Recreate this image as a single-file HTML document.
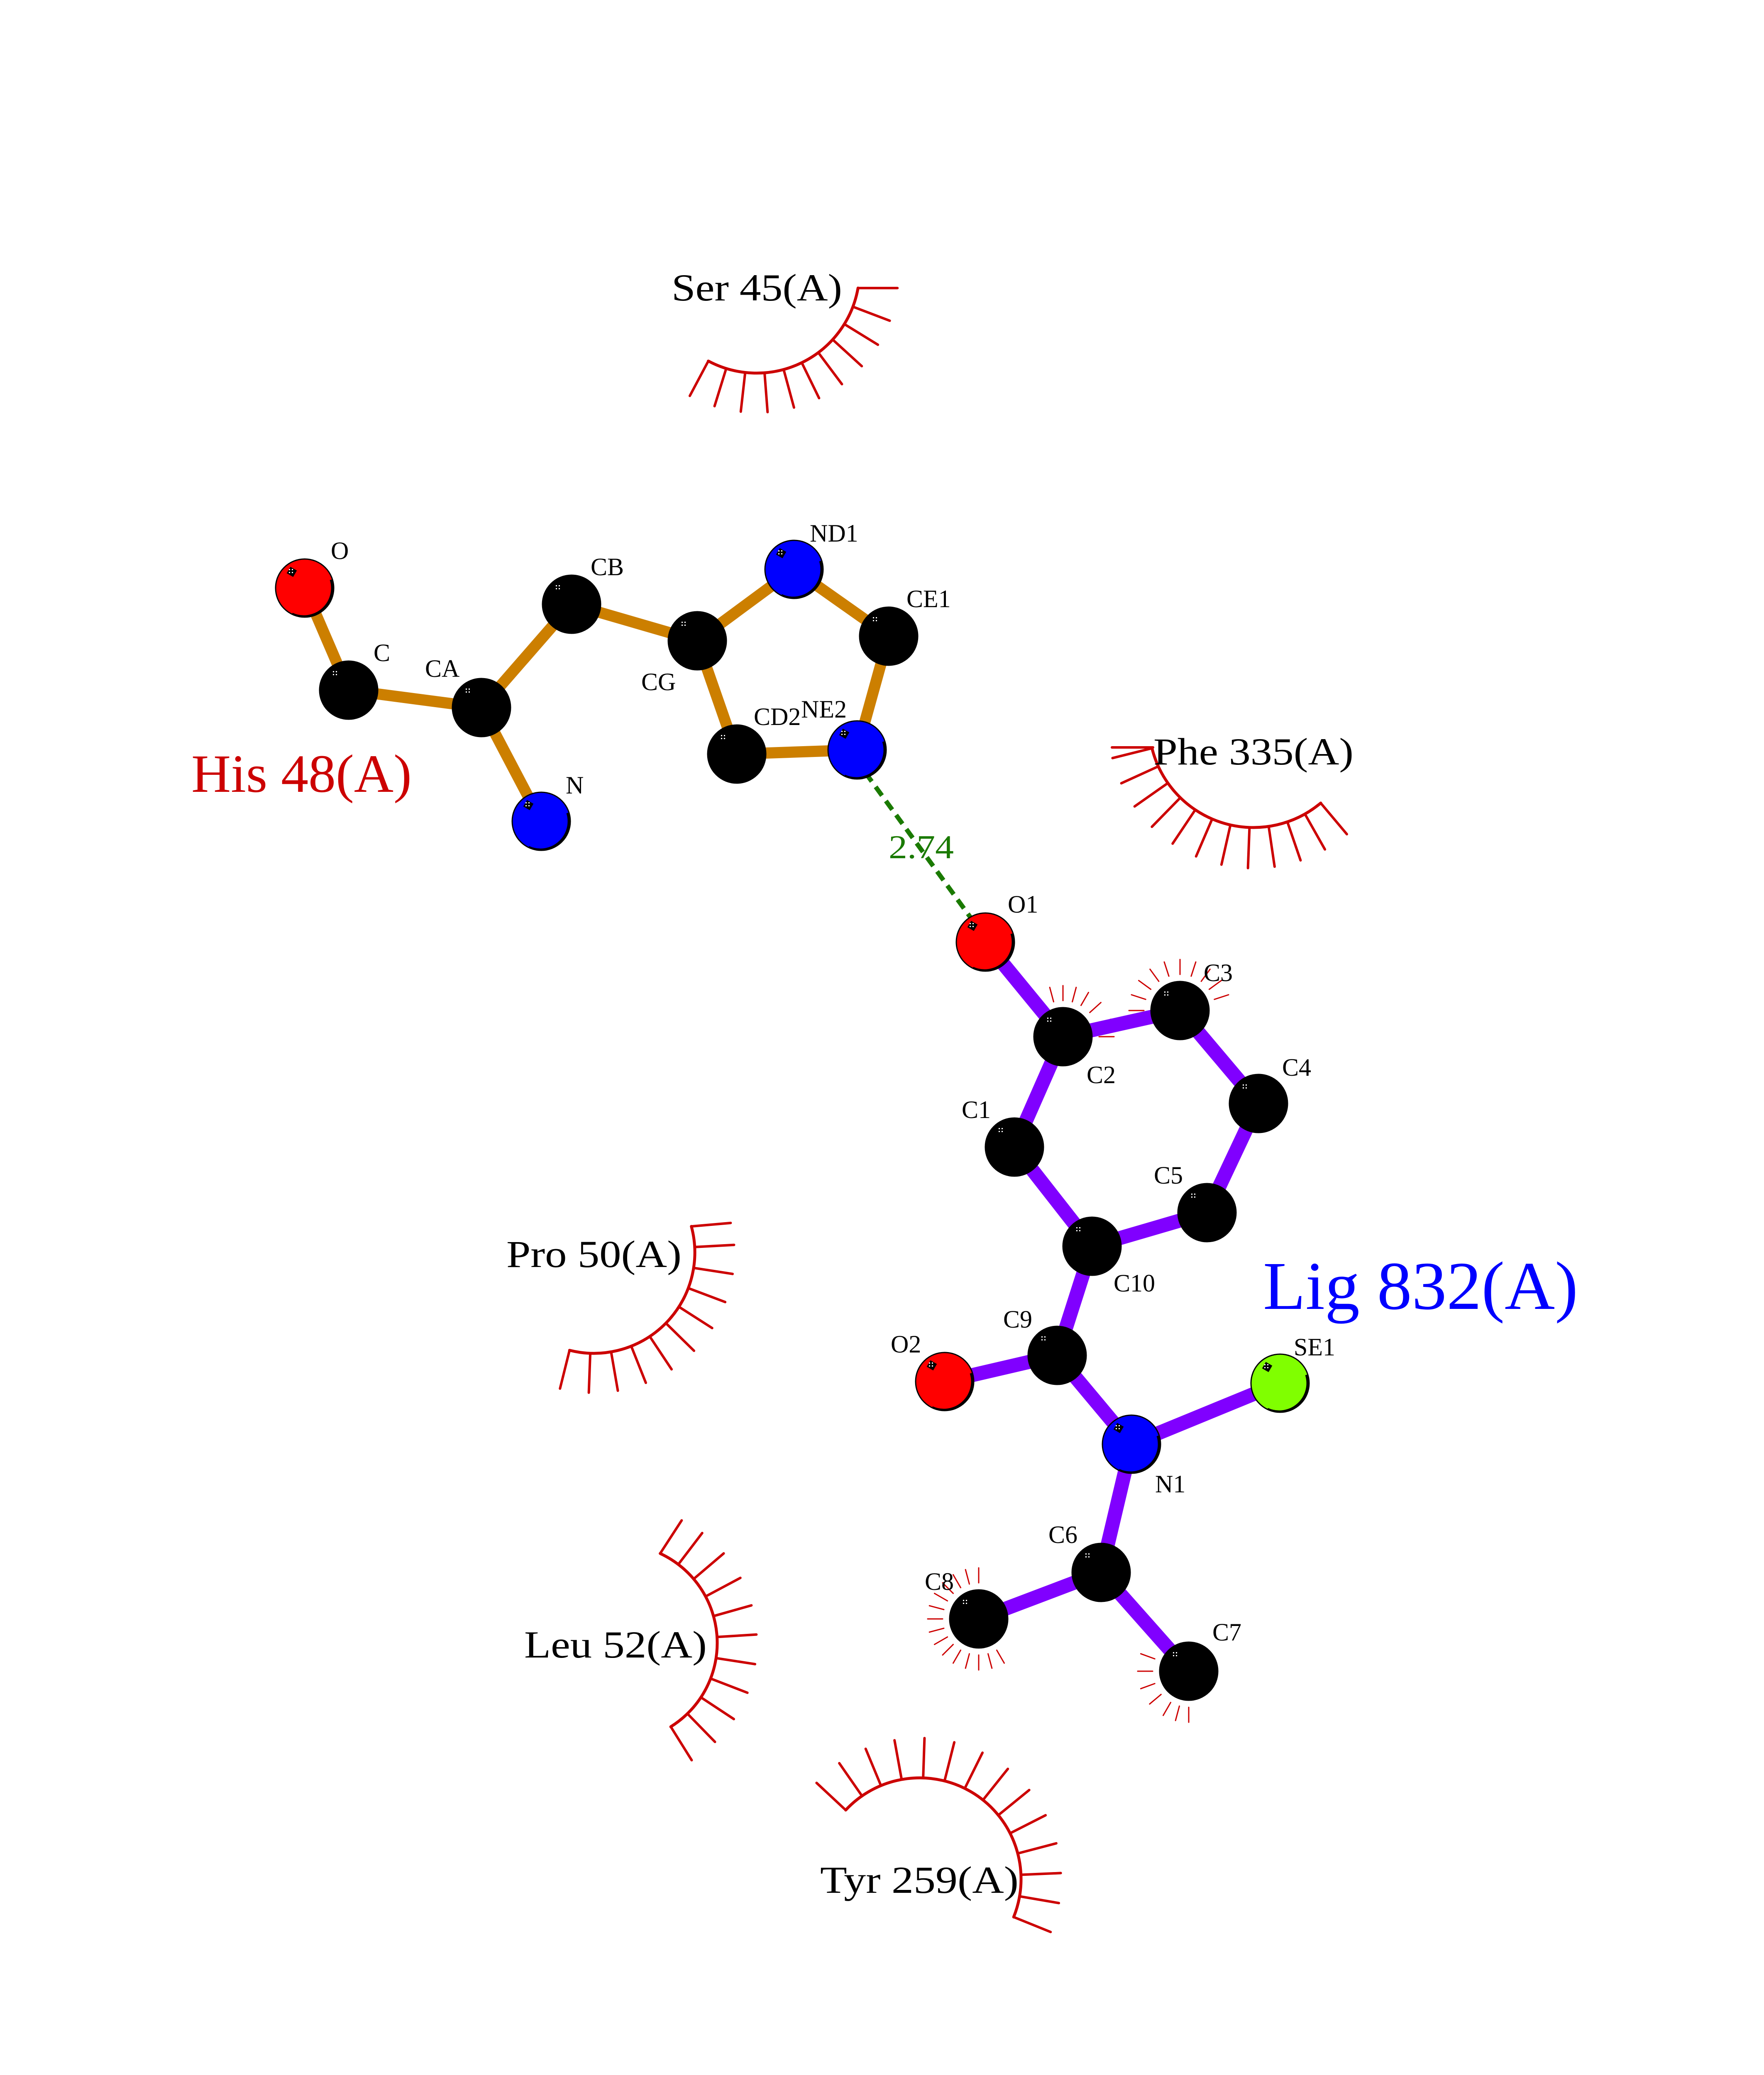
<!DOCTYPE html>
<html><head><meta charset="utf-8">
<style>
html,body{margin:0;padding:0;background:#fff;width:4250px;height:5500px;overflow:hidden;}
svg{display:block;}
</style></head>
<body>
<svg id="s" xmlns="http://www.w3.org/2000/svg" width="4250" height="5500" viewBox="0 0 4250 5500" font-family="'Liberation Serif', serif">
<rect width="4250" height="5500" fill="#fff"/>
<g id="arcs" stroke="#cc0000" fill="none" stroke-linecap="round"></g>
<g id="bonds" stroke-linecap="butt"></g>
<line x1="2085" y1="1862" x2="2345" y2="2220" stroke="#1a7a00" stroke-width="11" stroke-dasharray="26,16"/>
<g id="atoms"></g>
<g id="labels" font-size="60" fill="#000"></g>
<text x="1618" y="724" font-size="92" textLength="411" lengthAdjust="spacingAndGlyphs">Ser 45(A)</text>
<text x="2779" y="1842" font-size="92" textLength="482" lengthAdjust="spacingAndGlyphs">Phe 335(A)</text>
<text x="1220" y="3053" font-size="92" textLength="422" lengthAdjust="spacingAndGlyphs">Pro 50(A)</text>
<text x="1263" y="3994" font-size="92" textLength="440" lengthAdjust="spacingAndGlyphs">Leu 52(A)</text>
<text x="1976" y="4561" font-size="92" textLength="478" lengthAdjust="spacingAndGlyphs">Tyr 259(A)</text>
<text x="461" y="1908" font-size="130" fill="#cc0000" textLength="531" lengthAdjust="spacingAndGlyphs">His 48(A)</text>
<text x="3043" y="3154" font-size="165" fill="#0000ff" textLength="759" lengthAdjust="spacingAndGlyphs">Lig 832(A)</text>
<text x="2141" y="2068" font-size="80" fill="#1a7a00" textLength="157" lengthAdjust="spacingAndGlyphs">2.74</text>
<text x="205" y="5150" font-size="40">.</text>
</svg>
<script>
(function(){
var NS="http://www.w3.org/2000/svg";
function el(p,n,a){var e=document.createElementNS(NS,n);for(var k in a)e.setAttribute(k,a[k]);p.appendChild(e);return e;}
var A={O:[734,1417,'r'],C:[840,1663,'k'],CA:[1160,1705,'k'],N:[1304,1979,'b'],CB:[1377,1456,'k'],CG:[1680,1544,'k'],ND1:[1913,1372,'b'],CE1:[2141,1533,'k'],NE2:[2065,1807,'b'],CD2:[1775,1817,'k'],
O1:[2374,2270,'r'],C2:[2561,2498,'k'],C3:[2843,2435,'k'],C4:[3032,2659,'k'],C5:[2908,2922,'k'],C10:[2631,3003,'k'],C1:[2444,2764,'k'],C9:[2547,3266,'k'],O2:[2276,3329,'r'],N1:[2726,3480,'b'],SE1:[3084,3333,'g'],C6:[2653,3789,'k'],C8:[2358,3901,'k'],C7:[2864,4027,'k']};
var HB=[['O','C'],['C','CA'],['CA','N'],['CA','CB'],['CB','CG'],['CG','ND1'],['ND1','CE1'],['CE1','NE2'],['NE2','CD2'],['CD2','CG']];
var LB=[['O1','C2'],['C2','C3'],['C3','C4'],['C4','C5'],['C5','C10'],['C10','C1'],['C1','C2'],['C10','C9'],['C9','O2'],['C9','N1'],['N1','SE1'],['N1','C6'],['C6','C8'],['C6','C7']];
var bg=document.getElementById('bonds');
HB.forEach(function(b){var p=A[b[0]],q=A[b[1]];el(bg,'line',{x1:p[0],y1:p[1],x2:q[0],y2:q[1],stroke:'#cc7f00','stroke-width':27});});
LB.forEach(function(b){var p=A[b[0]],q=A[b[1]];el(bg,'line',{x1:p[0],y1:p[1],x2:q[0],y2:q[1],stroke:'#8000ff','stroke-width':34});});
var col={r:'#ff0000',k:'#000000',b:'#0000ff',g:'#80ff00'};
var ag=document.getElementById('atoms');
for(var k in A){var a=A[k];
 el(ag,'circle',{cx:a[0],cy:a[1],r:70,fill:col[a[2]],stroke:'#000','stroke-width':3});
 if(a[2]!='k'){el(ag,'path',{d:'M'+(a[0]-30)+','+(a[1]+62)+' A68,68 0 0 0 '+(a[0]+63)+','+(a[1]-20),fill:'none',stroke:'#000','stroke-width':5});
  el(ag,'rect',{x:a[0]-40,y:a[1]-48,width:18,height:18,fill:'#000',transform:'rotate(30 '+(a[0]-31)+' '+(a[1]-39)+')'});}
 for(var i=0;i<2;i++)for(var j=0;j<2;j++)el(ag,'rect',{x:a[0]-38+i*7,y:a[1]-46+j*7,width:3,height:3,fill:'#fff'});
}
var L=[['O',797,1326],['C',900,1572],['CA',1024,1610],['N',1363,1891],['CB',1423,1365],['CG',1545,1642],['ND1',1951,1284],['CE1',2184,1442],['CD2',1816,1726],['NE2',1930,1708],
['O1',2428,2178],['C3',2900,2343],['C2',2618,2589],['C4',3089,2571],['C1',2317,2673],['C5',2780,2831],['C10',2683,3091],['C9',2417,3178],['O2',2146,3238],['SE1',3117,3245],['N1',2783,3575],['C6',2526,3697],['C8',2228,3810],['C7',2921,3932]];
var lg=document.getElementById('labels');
L.forEach(function(l){var t=el(lg,'text',{x:l[1],y:l[2]+21});t.textContent=l[0];});
var arcg=document.getElementById('arcs');
function rad(d){return d*Math.PI/180;}
function arc(cx,cy,r,a0,a1,n,len,first){
 var x0=cx+r*Math.cos(rad(a0)),y0=cy+r*Math.sin(rad(a0)),x1=cx+r*Math.cos(rad(a1)),y1=cy+r*Math.sin(rad(a1));
 var large=Math.abs(a1-a0)>180?1:0;
 el(arcg,'path',{d:'M'+x0+','+y0+' A'+r+','+r+' 0 '+large+' 1 '+x1+','+y1,'stroke-width':7});
 for(var i=0;i<n;i++){var a=a0+(a1-a0)*i/(n-1);var px=cx+r*Math.cos(rad(a)),py=cy+r*Math.sin(rad(a));
  var da=(i==0&&first!==undefined)?first:a;
  el(arcg,'line',{x1:px,y1:py,x2:px+len*Math.cos(rad(da)),y2:py+len*Math.sin(rad(da)),'stroke-width':6});}
}
arc(1823,651,248,10,118,11,95,0);
arc(3020,1742,252,50,166,12,98);
el(arcg,'line',{x1:2778,y1:1801,x2:2679,y2:1801,'stroke-width':6});
arc(1431,3018,243,-15,104,11,95,-5);
arc(1490,3959,238,-65,58,11,95,-57);
arc(2216,4528,244,223,382,14,96);
function small(c,angs){var a=A[c];angs.forEach(function(d){el(arcg,'line',{x1:a[0]+87*Math.cos(rad(d)),y1:a[1]+87*Math.sin(rad(d)),x2:a[0]+123*Math.cos(rad(d)),y2:a[1]+123*Math.sin(rad(d)),'stroke-width':3});});}
small('C2',[-105,-90,-75,-60,-42,-20,0]);
small('C3',[-180,-162,-144,-126,-108,-90,-72,-54,-36,-18]);
var c8=[];for(var d=60;d<=270;d+=15)c8.push(d);small('C8',c8);
small('C7',[90,105,120,140,160,180,200]);
})();
</script>
</body></html>
